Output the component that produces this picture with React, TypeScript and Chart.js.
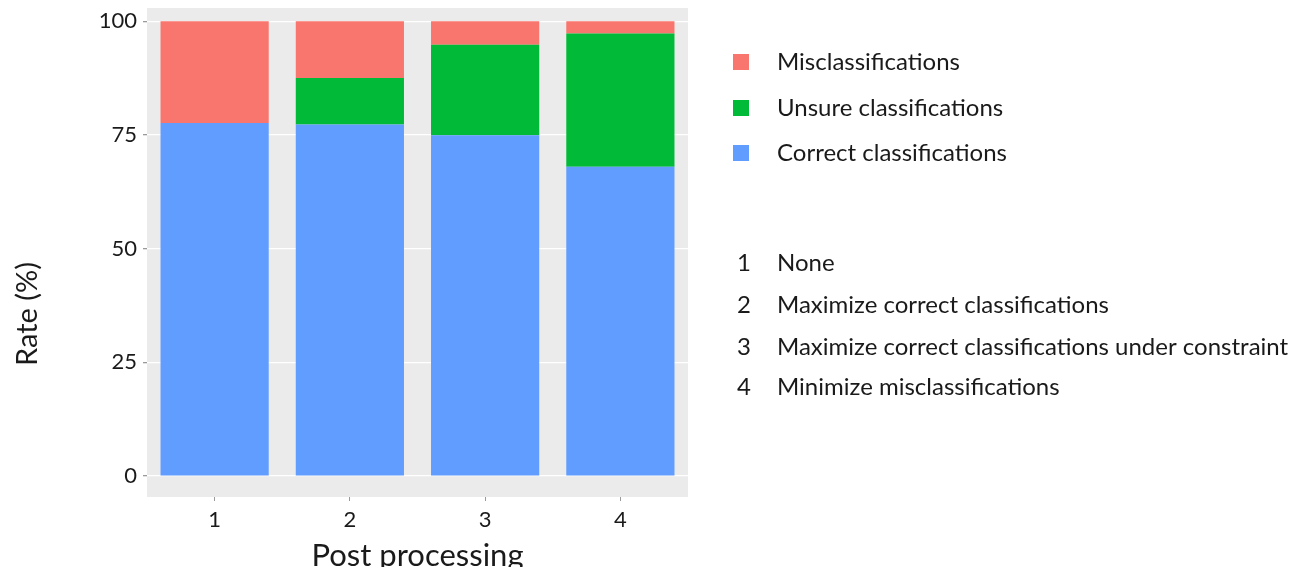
import React, { useEffect, useRef } from "react";
import { Chart, registerables } from "chart.js";

Chart.register(...registerables);

const categories = ["1", "2", "3", "4"];
const correctValues = [77.6, 77.3, 74.9, 68.0];
const unsureValues = [0, 10.2, 19.9, 29.3];
const misValues = [22.4, 12.5, 5.2, 2.7];
const yTickValues = [0, 25, 50, 75, 100];
const yTitle = "Rate (%)";
const methodKeys = ["1", "2", "3", "4"];
const methodLabels = [
  "None",
  "Maximize correct classifications",
  "Maximize correct classifications under constraint",
  "Minimize misclassifications",
];

const FONT = "Lato, 'Open Sans', sans-serif";
const TEXT = "#1a1a1a";

const panelPlugin = {
  id: "panelBg",
  beforeDraw(chart: any) {
    const { ctx, chartArea } = chart;
    ctx.save();
    ctx.fillStyle = "#EBEBEB";
    ctx.fillRect(chartArea.left, chartArea.top, chartArea.right - chartArea.left, chartArea.bottom - chartArea.top);
    ctx.restore();
  },
};

const legendPlugin = {
  id: "customLegend",
  afterDraw(chart: any) {
    const { ctx } = chart;
    const ds = chart.data.datasets.slice().reverse();
    ctx.save();
    // y axis title (placed as in the reference, slightly below the axis centre)
    ctx.save();
    ctx.translate(28, 314);
    ctx.rotate(-Math.PI / 2);
    ctx.font = `29px ${FONT}`;
    ctx.fillStyle = TEXT;
    ctx.textAlign = "center";
    ctx.textBaseline = "middle";
    ctx.fillText(yTitle, 0, 0);
    ctx.restore();

    ctx.font = `24px ${FONT}`;
    ctx.textBaseline = "middle";
    ctx.textAlign = "left";
    const ys = [62, 108, 153];
    ds.forEach((d: any, i: number) => {
      ctx.fillStyle = d.backgroundColor;
      ctx.fillRect(733, ys[i] - 8, 16, 16);
      ctx.fillStyle = TEXT;
      ctx.fillText(d.label, 777, ys[i]);
    });
    const ys2 = [263, 305, 347, 387];
    methodKeys.forEach((k, i) => {
      ctx.textAlign = "center";
      ctx.fillStyle = TEXT;
      ctx.fillText(k, 744, ys2[i]);
      ctx.textAlign = "left";
      ctx.fillText(methodLabels[i], 777, ys2[i]);
    });
    ctx.restore();
  },
};

export default function App() {
  const ref = useRef<HTMLCanvasElement>(null);
  useEffect(() => {
    if (!ref.current) return;
    const chart = new Chart(ref.current, {
      type: "bar",
      data: {
        labels: categories,
        datasets: [
          { label: "Correct classifications", data: correctValues, backgroundColor: "#619CFF" },
          { label: "Unsure classifications", data: unsureValues, backgroundColor: "#00BA38" },
          { label: "Misclassifications", data: misValues, backgroundColor: "#F8766D" },
        ],
      },
      options: {
        responsive: false,
        animation: false,
        devicePixelRatio: 1,
        layout: { padding: { left: 0, right: 601, top: 8, bottom: 0 } },
        datasets: { bar: { barPercentage: 0.8, categoryPercentage: 1 } },
        plugins: { legend: { display: false }, tooltip: { enabled: false } },
        scales: {
          x: {
            stacked: true,
            grid: { color: "rgba(0,0,0,0)", tickColor: "#9a9a9a", tickLength: 4, offset: false },
            border: { display: false },
            ticks: { font: { family: FONT, size: 22 }, color: TEXT, padding: 6 },
            title: {
              display: true,
              text: "Post processing",
              font: { family: FONT, size: 31, lineHeight: 1 },
              color: TEXT,
              padding: { top: 0, bottom: -4 },
            },
            afterFit(scale: any) {
              scale.height = 70;
              scale.paddingLeft = 0;
              scale.paddingRight = 0;
            },
          },
          y: {
            stacked: true,
            min: -4.6,
            max: 102.9,
            afterBuildTicks(scale: any) {
              scale.ticks = yTickValues.map((v) => ({ value: v }));
            },
            grid: { color: "#ffffff", lineWidth: 1.3, tickColor: "#9a9a9a", tickLength: 4 },
            border: { display: false },
            ticks: { font: { family: FONT, size: 22 }, color: TEXT, padding: 6 },
            title: { display: false },
            afterFit(scale: any) {
              scale.width = 147;
              scale.paddingTop = 0;
              scale.paddingBottom = 0;
            },
          },
        },
      },
      plugins: [panelPlugin, legendPlugin],
    });
    return () => chart.destroy();
  }, []);
  return (
    <div style={{ position: "absolute", left: 0, top: 0, width: 1289, height: 567 }}>
      <canvas ref={ref} width={1289} height={567} />
    </div>
  );
}
